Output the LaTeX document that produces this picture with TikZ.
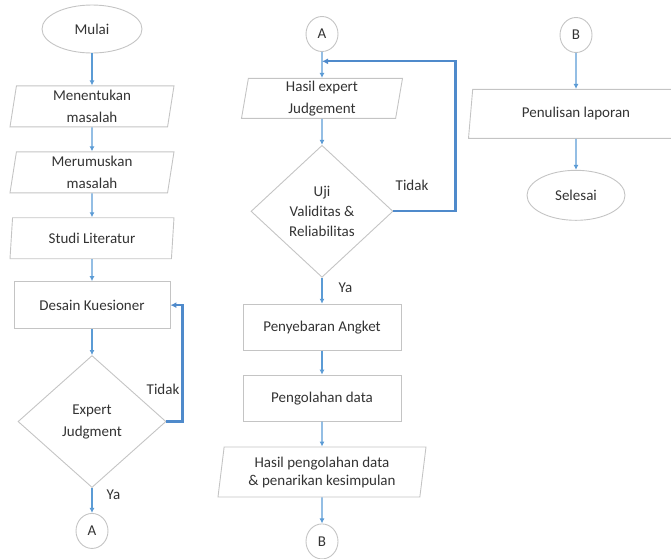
\documentclass[tikz,border=0pt]{standalone}
\usepackage{fontspec}
\setmainfont{Carlito}
\usepackage{xcolor}
\usepackage{tikz}
\usetikzlibrary{shapes.geometric, arrows.meta, positioning, calc}
\definecolor{lineblue}{HTML}{5B9BD5}
\definecolor{loopblue}{HTML}{4F8ACB}
\definecolor{boxgray}{HTML}{C4C4C4}
\definecolor{txtgray}{HTML}{333333}
\tikzset{
  base/.style={draw=boxgray, line width=0.9pt, text=txtgray, align=center, font=\fontsize{15}{22}\selectfont, inner sep=2pt},
  terminal/.style={base, ellipse, minimum width=100pt, minimum height=48pt},
  connector/.style={base, ellipse, minimum width=32pt, minimum height=35pt, inner sep=0pt},
  io/.style={base, trapezium, trapezium left angle=80, trapezium right angle=100, trapezium stretches body, minimum width=164pt, minimum height=41pt},
  process/.style={base, rectangle, minimum width=156pt, minimum height=47pt},
  decision/.style={base, diamond, minimum width=148pt, minimum height=132pt, inner sep=0pt},
  flow/.style={draw=lineblue, line width=1.4pt, -{Latex[length=5pt,width=5pt]}},
  loopback/.style={draw=loopblue, line width=2.2pt, -{Latex[length=6pt,width=6pt]}},
  lbl/.style={font=\fontsize{15}{17}\selectfont, text=txtgray, inner sep=2pt}
}
\begin{document}
\begin{tikzpicture}
    \useasboundingbox (0,0) rectangle (671pt,-558pt);
    % Kolom 1
    \node[terminal] (mulai) at (92pt,-29pt) {Mulai};
    \node[io, below=32pt of mulai] (tentukan) {Menentukan\\masalah};
    \node[io, below=24pt of tentukan] (rumuskan) {Merumuskan\\masalah};
    \node[io, below=24pt of rumuskan] (studi) {Studi Literatur};
    \node[process, below=22pt of studi] (desain) {Desain Kuesioner};
    \node[decision, below=26pt of desain] (expert) {Expert\\Judgment};
    \node[connector, below=25pt of expert] (a1) {A};

    % Kolom 2
    \node[connector] (a2) at (322pt,-34pt) {A};
    \node[io, minimum width=161pt, minimum height=40pt, below=26pt of a2] (hasil1) {Hasil expert\\Judgement};
    \node[decision, minimum width=142pt, font=\fontsize{15}{20}\selectfont, below=26pt of hasil1] (uji) {Uji\\Validitas \&\\Reliabilitas};
    \node[process, minimum width=158pt, minimum height=46pt, below=26pt of uji] (sebar) {Penyebaran Angket};
    \node[process, minimum width=158pt, minimum height=46pt, below=24pt of sebar] (olah) {Pengolahan data};
    \node[io, minimum width=208pt, minimum height=50pt, font=\fontsize{15}{18}\selectfont, below=25pt of olah] (hasil2) {Hasil pengolahan data\\\& penarikan kesimpulan};
    \node[connector, below=26pt of hasil2] (b1) {B};

    % Kolom 3
    \node[connector] (b2) at (576pt,-35pt) {B};
    \node[io, minimum width=215pt, minimum height=49pt, trapezium left angle=76, trapezium right angle=104, below=36pt of b2] (tulis) {Penulisan laporan};
    \node[terminal, minimum width=98pt, minimum height=50pt, below=31pt of tulis] (selesai) {Selesai};

    % Panah
    \draw[flow] (mulai) -- (tentukan);
    \draw[flow] (tentukan) -- (rumuskan);
    \draw[flow] (rumuskan) -- (studi);
    \draw[flow] (studi) -- (desain);
    \draw[flow] (desain) -- (expert);
    \draw[flow] (expert) -- node[lbl, right=12pt, pos=0.25] {Ya} (a1);
    \draw[loopback] (expert.east) -- ++(16pt,0) |- node[lbl, left, pos=0.14] {Tidak} (desain.east);

    \coordinate (join) at ($(a2.south)!0.36!(hasil1.north)$);
    \draw[flow] (a2) -- (hasil1);
    \draw[flow] (hasil1) -- (uji);
    \draw[flow] (uji) -- node[lbl, right=14pt, pos=0.4] {Ya} (sebar);
    \draw[loopback] (uji.east) -- node[lbl, above=18pt, pos=0.3] {Tidak} ++(62pt,0) |- (join);
    \draw[flow] (sebar) -- (olah);
    \draw[flow] (olah) -- (hasil2);
    \draw[flow] (hasil2) -- (b1);

    \draw[flow] (b2) -- (tulis);
    \draw[flow] (tulis) -- (selesai);
\end{tikzpicture}
\end{document}
